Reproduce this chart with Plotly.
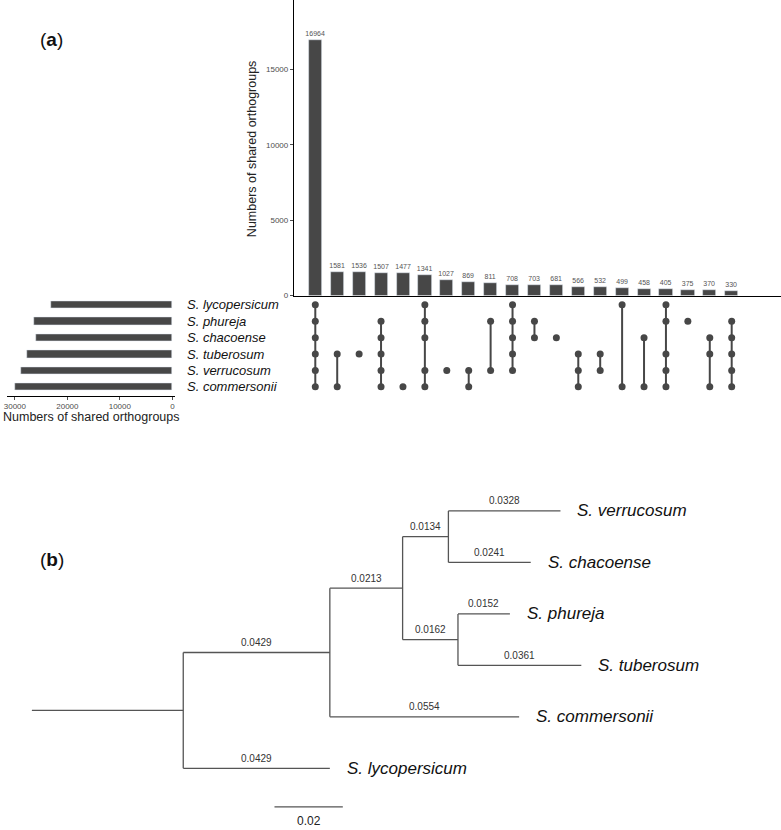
import plotly.graph_objects as go

# ---------------- data ----------------
sets = ["S. lycopersicum", "S. phureja", "S. chacoense",
        "S. tuberosum", "S. verrucosum", "S. commersonii"]
set_sizes = [23100, 26400, 25900, 27700, 28800, 30040]

intersection_sizes = [16964, 1581, 1536, 1507, 1477, 1341, 1027, 869, 811, 708,
                      703, 681, 566, 532, 499, 458, 405, 375, 370, 330]
# membership of each intersection (set indices, 0 = S. lycopersicum ... 5 = S. commersonii)
intersection_members = [
    [0, 1, 2, 3, 4, 5], [3, 5], [3], [1, 2, 3, 4, 5], [5],
    [0, 1, 2, 4, 5], [4], [4, 5], [1, 4], [0, 1, 2, 3, 4],
    [1, 2], [2], [3, 4, 5], [3, 4], [0, 5],
    [2, 5], [0, 1, 3, 4, 5], [1], [2, 3, 5], [1, 2, 3, 4, 5],
]

# phylogenetic tree: node, parent, branch length
tree_nodes = ["n0", "n1", "n2", "n3", "S. verrucosum", "S. chacoense", "n4",
              "S. phureja", "S. tuberosum", "S. commersonii", "S. lycopersicum"]
tree_parents = [None, "n0", "n1", "n2", "n3", "n3", "n2", "n4", "n4", "n1", "n0"]
tree_lengths = [0.0443, 0.0429, 0.0213, 0.0134, 0.0328, 0.0241, 0.0162,
                0.0152, 0.0361, 0.0554, 0.0429]
leaf_order = ["S. verrucosum", "S. chacoense", "S. phureja", "S. tuberosum",
              "S. commersonii", "S. lycopersicum"]
scale_bar_length = 0.02

# ---------------- styling helpers ----------------
W, H = 781, 830
FONT = "Liberation Sans, Arial, sans-serif"
DARK = "#474747"
TICK = "#4d4d4d"


def px_x(p):
    return p / W


def px_y(p):
    return 1 - p / H


fig = go.Figure()

# ---- intersection bars ----
cols = list(range(len(intersection_sizes)))
lbl_font = dict(size=7, color="#555555", family=FONT)
fig.add_trace(go.Bar(
    x=cols, y=intersection_sizes, width=0.6, marker_color=DARK,
    text=[str(v) for v in intersection_sizes], textposition="outside",
    textfont=lbl_font, outsidetextfont=lbl_font,
    constraintext="none", cliponaxis=False,
    xaxis="x", yaxis="y", showlegend=False, hoverinfo="x+y"))

# ---- matrix ----
lx, ly = [], []
for c, mem in enumerate(intersection_members):
    if len(mem) > 1:
        lx += [c, c, None]
        ly += [min(mem), max(mem), None]
fig.add_trace(go.Scatter(x=lx, y=ly, mode="lines",
                         line=dict(color=DARK, width=2),
                         xaxis="x2", yaxis="y2", showlegend=False, hoverinfo="skip"))
dx, dy = [], []
for c, mem in enumerate(intersection_members):
    for m in mem:
        dx.append(c)
        dy.append(m)
fig.add_trace(go.Scatter(x=dx, y=dy, mode="markers",
                         marker=dict(color=DARK, size=7),
                         xaxis="x2", yaxis="y2", showlegend=False, hoverinfo="skip"))

# ---- set size bars ----
fig.add_trace(go.Bar(x=set_sizes, y=list(range(len(sets))), orientation="h",
                     width=0.45, marker_color=DARK,
                     xaxis="x3", yaxis="y3", showlegend=False))

# ---- tree ----
par = dict(zip(tree_nodes, tree_parents))
blen = dict(zip(tree_nodes, tree_lengths))
children = {n: [] for n in tree_nodes}
for n, p in zip(tree_nodes, tree_parents):
    if p is not None:
        children[p].append(n)

xpos = {}
for n in tree_nodes:
    x = 0.0
    cur = n
    while cur is not None:
        x += blen[cur]
        cur = par[cur]
    xpos[n] = x

ypos = {}


def node_y(n):
    if n in ypos:
        return ypos[n]
    if not children[n]:
        ypos[n] = leaf_order.index(n)
    else:
        ys = [node_y(c) for c in children[n]]
        ypos[n] = (min(ys) + max(ys)) / 2
    return ypos[n]


for n in tree_nodes:
    node_y(n)

tx, ty = [], []
for n in tree_nodes:
    x0 = xpos[par[n]] if par[n] is not None else 0.0
    tx += [x0, xpos[n], None]
    ty += [ypos[n], ypos[n], None]
    if children[n]:
        cy = [ypos[c] for c in children[n]]
        tx += [xpos[n], xpos[n], None]
        ty += [min(cy), max(cy), None]
fig.add_trace(go.Scatter(x=tx, y=ty, mode="lines",
                         line=dict(color="#555555", width=1.3),
                         xaxis="x4", yaxis="y4", showlegend=False, hoverinfo="skip"))

# scale bar
sb_x0, sb_y = 0.071, 5.747
fig.add_trace(go.Scatter(x=[sb_x0, sb_x0 + scale_bar_length], y=[sb_y, sb_y],
                         mode="lines", line=dict(color="#555555", width=1.3),
                         xaxis="x4", yaxis="y4", showlegend=False, hoverinfo="skip"))

annotations = []
# branch length labels
for n in tree_nodes:
    if par[n] is None:
        continue
    x0 = xpos[par[n]]
    annotations.append(dict(x=(x0 + xpos[n]) / 2, y=ypos[n], xref="x4", yref="y4",
                            text=f"{blen[n]:.4f}", showarrow=False, yshift=10,
                            xanchor="center", yanchor="middle",
                            font=dict(size=10, color="#333333", family=FONT)))
    if not children[n]:
        annotations.append(dict(x=xpos[n], y=ypos[n], xref="x4", yref="y4",
                                text=f"<i>{n}</i>", showarrow=False, xanchor="left",
                                yanchor="middle",
                                xshift=15, font=dict(size=17, color="#111111", family=FONT)))
annotations.append(dict(x=sb_x0 + scale_bar_length / 2, y=sb_y, xref="x4", yref="y4",
                        text=f"{scale_bar_length}", showarrow=False, yshift=-14,
                        xanchor="center", yanchor="middle",
                        font=dict(size=12, color="#222222", family=FONT)))

# species labels for matrix
for i, s in enumerate(sets):
    annotations.append(dict(x=px_x(183), y=i, xref="paper", yref="y2",
                            text=f"<i>{s}</i>", showarrow=False, xanchor="left",
                            yanchor="middle",
                            font=dict(size=13, color="#111111", family=FONT)))

# axis titles and panel labels
annotations.append(dict(x=px_x(250), y=px_y(150), xref="paper", yref="paper",
                        text="Numbers of shared orthogroups", textangle=-90,
                        xanchor="center", yanchor="middle",
                        showarrow=False, font=dict(size=12.5, color="#222222", family=FONT)))
annotations.append(dict(x=px_x(88), y=px_y(420), xref="paper", yref="paper",
                        text="Numbers of shared orthogroups",
                        xanchor="center", yanchor="middle",
                        showarrow=False, font=dict(size=12.5, color="#222222", family=FONT)))
annotations.append(dict(x=px_x(49), y=px_y(40), xref="paper", yref="paper",
                        text="(<b>a</b>)", showarrow=False,
                        xanchor="center", yanchor="middle",
                        font=dict(size=19, color="#111111", family=FONT)))
annotations.append(dict(x=px_x(49), y=px_y(563), xref="paper", yref="paper",
                        text="(<b>b</b>)", showarrow=False,
                        xanchor="center", yanchor="middle",
                        font=dict(size=19, color="#111111", family=FONT)))

# ---------------- axes ----------------
bar_w = 22.0
x0_px = 313.5
xrange_main = [(292 - x0_px) / bar_w, (W - x0_px) / bar_w]
base_px = 297.3
per5000 = 75.8
row0, row_h = 306.7, 16.5
mat_top, mat_bot = 298, 398
mat_range = [(mat_bot - row0) / row_h, (mat_top - row0) / row_h]
ss_px_per_10k = 52.7
ss_zero_px = 170
ss_range = [(ss_zero_px - 4) / ss_px_per_10k * 10000, (ss_zero_px - 173) / ss_px_per_10k * 10000]
tree_scale = 3430.0
tree_x0_px = 29
leaf0_px, leaf_step = 514, 51.8

fig.update_layout(
    width=W, height=H, margin=dict(l=0, r=0, t=0, b=0),
    paper_bgcolor="white", plot_bgcolor="white",
    font=dict(family=FONT),
    bargap=0,
    xaxis=dict(domain=[px_x(292), 1], range=xrange_main, showline=True,
               linecolor="black", linewidth=1.2, showticklabels=False, ticks="",
               showgrid=False, zeroline=False, anchor="y", fixedrange=True),
    yaxis=dict(domain=[px_y(base_px), 1], range=[0, base_px / per5000 * 5000],
               showline=True, linecolor="black", linewidth=1, ticks="outside",
               ticklen=3, tickcolor=TICK, tickvals=[0, 5000, 10000, 15000],
               tickformat="d",
               tickfont=dict(size=8, color=TICK), showgrid=False, zeroline=False,
               anchor="x", fixedrange=True),
    xaxis2=dict(domain=[px_x(292), 1], range=xrange_main, visible=False,
                anchor="y2", fixedrange=True),
    yaxis2=dict(domain=[px_y(mat_bot), px_y(mat_top)], range=mat_range,
                visible=False, anchor="x2", fixedrange=True),
    xaxis3=dict(domain=[px_x(4), px_x(173)], range=ss_range, showline=True,
                linecolor="black", linewidth=1, ticks="outside", ticklen=3,
                tickcolor=TICK, tickvals=[0, 10000, 20000, 30000], tickformat="d",
                tickfont=dict(size=8, color=TICK), showgrid=False, zeroline=False,
                anchor="y3", fixedrange=True),
    yaxis3=dict(domain=[px_y(mat_bot), px_y(mat_top)], range=mat_range,
                visible=False, anchor="x3", fixedrange=True),
    xaxis4=dict(domain=[0, 1],
                range=[-tree_x0_px / tree_scale, (W - tree_x0_px) / tree_scale],
                visible=False, anchor="y4", fixedrange=True),
    yaxis4=dict(domain=[0, px_y(470)],
                range=[(H - leaf0_px) / leaf_step, (470 - leaf0_px) / leaf_step],
                visible=False, anchor="x4", fixedrange=True),
    annotations=annotations,
)

fig.write_html("out.html", config={"displayModeBar": False},
               post_script="document.body.style.margin='0';document.body.style.overflow='hidden';")
